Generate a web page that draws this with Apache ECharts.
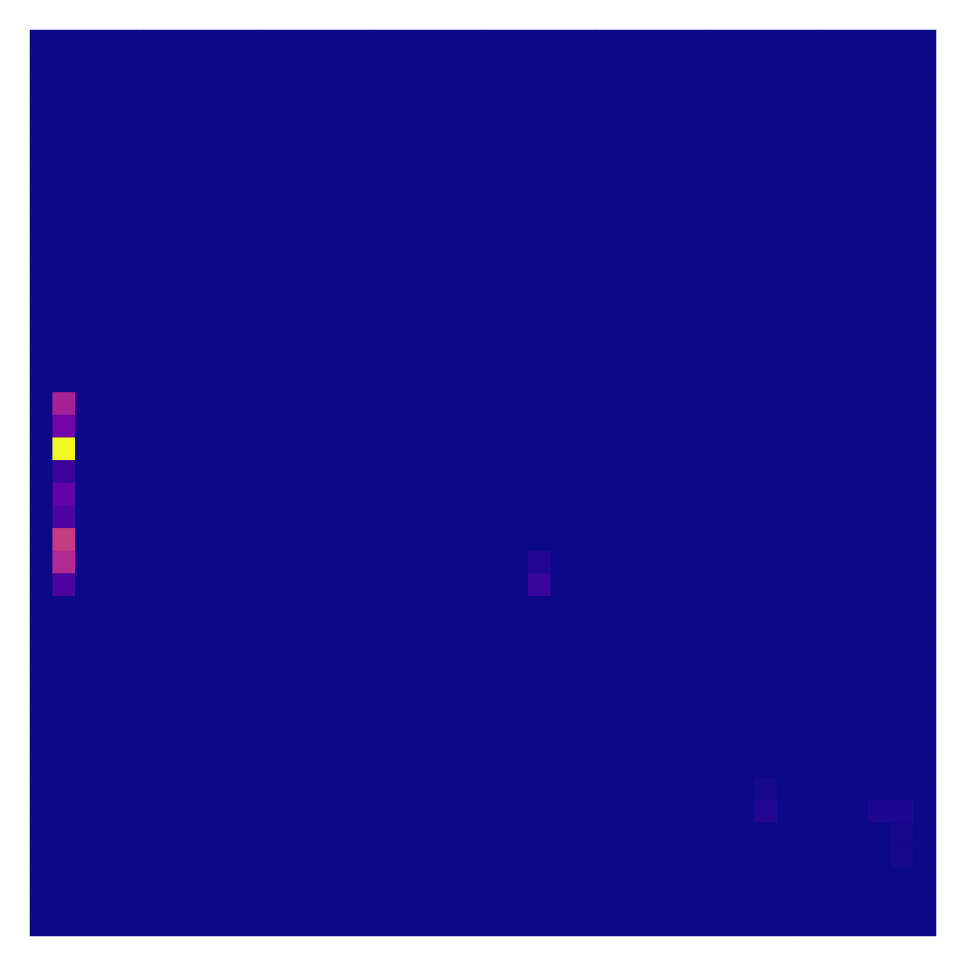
<!DOCTYPE html>
<html>
<head>
<meta charset="utf-8">
<script src="https://cdn.jsdelivr.net/npm/echarts@6/dist/echarts.min.js"></script>
<style>html,body{margin:0;padding:0;background:#fff;}#c{width:965px;height:966px;}</style>
</head>
<body>
<div id="c"></div>
<script>
// Grid size (40 x 40 cells)
const nCols = 40;
const nRows = 40;
// Non-zero cells: column index, row index (from top), value (0-100)
const cellCols = [1, 1, 1, 1, 1, 1, 1, 1, 1, 22, 22, 32, 32, 37, 38, 38, 38];
const cellRows = [16, 17, 18, 19, 20, 21, 22, 23, 24, 23, 24, 33, 34, 34, 34, 35, 36];
const cellVals = [37, 22, 100, 9, 18, 13, 47, 40, 12, 4, 8, 2, 4, 3, 3, 2, 2];
// Plasma colour stops
const plasma = ['#0d0887','#41049d','#6a00a8','#8f0da4','#b12a90','#cc4778','#e16462','#f2844b','#fca636','#fcce25','#f0f921'];

const xCats = Array.from({length: nCols}, (_, i) => String(i));
const yCats = Array.from({length: nRows}, (_, i) => String(i));
const grid = {};
for (let i = 0; i < cellCols.length; i++) grid[cellCols[i] + ',' + cellRows[i]] = cellVals[i];
const data = [];
for (let c = 0; c < nCols; c++) {
  for (let r = 0; r < nRows; r++) {
    const v = grid[c + ',' + r];
    data.push([c, r, v === undefined ? 0 : v]);
  }
}

const chart = echarts.init(document.getElementById('c'), null, {renderer: 'canvas'});
chart.setOption({
  animation: false,
  backgroundColor: '#ffffff',
  grid: {left: 30, top: 30, width: 906, height: 906, show: true, backgroundColor: plasma[0], borderWidth: 0},
  xAxis: {type: 'category', data: xCats, show: false},
  yAxis: {type: 'category', data: yCats, inverse: true, show: false},
  visualMap: {show: false, min: 0, max: 100, dimension: 2, inRange: {color: plasma}},
  series: [{
    type: 'heatmap',
    data: data,
    itemStyle: {borderWidth: 0},
    emphasis: {disabled: true}
  }]
});
</script>
</body>
</html>
